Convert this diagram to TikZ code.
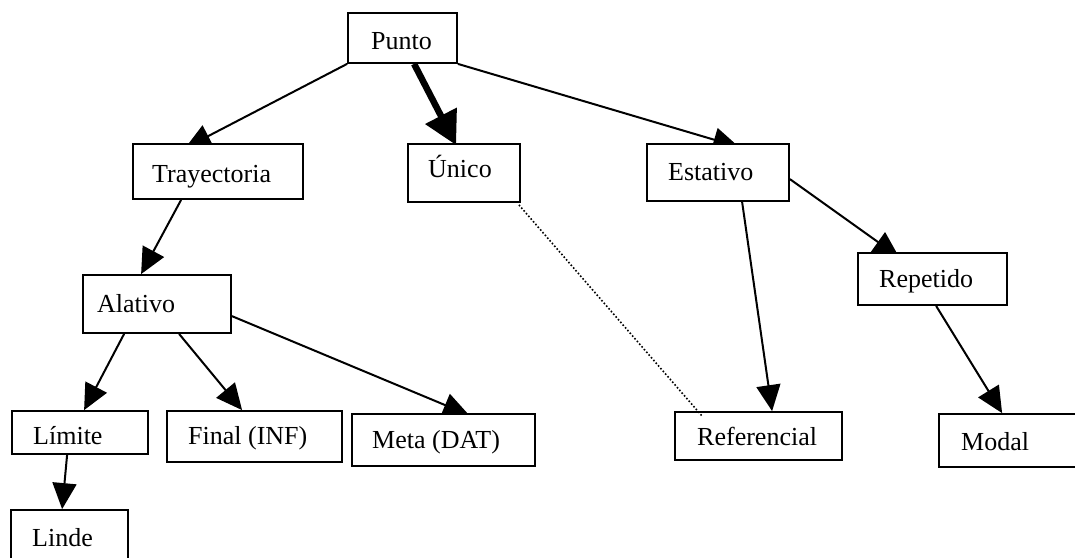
\documentclass[tikz,border=0pt]{standalone}
\usepackage{fontspec}
\setmainfont{Liberation Serif}
\usetikzlibrary{arrows.meta,calc,backgrounds}
\tikzset{
  box/.style={draw=black, line width=1.8pt, fill=white, inner sep=0pt, rectangle},
  lbl/.style={anchor=base west, inner sep=0pt, font=\fontsize{26}{30}\selectfont},
  arr/.style={line width=2pt, -{Triangle[length=26pt,width=24pt]}},
  thickarr/.style={line width=6.5pt, -{Triangle[length=33pt,width=34pt]}},
  dotline/.style={line width=1.6pt, dotted}
}
\begin{document}
\begin{tikzpicture}[x=1pt,y=-1pt]
\useasboundingbox (0,0) rectangle (1075,557);
% boxes
\node[box, minimum width=109pt, minimum height=50pt] (punto) at (402.5,38) {};
\node[box, minimum width=170pt, minimum height=55pt] (tray) at (218,171.5) {};
\node[box, minimum width=112pt, minimum height=58pt] (unico) at (464,173) {};
\node[box, minimum width=142pt, minimum height=57pt] (estativo) at (718,172.5) {};
\node[box, minimum width=149pt, minimum height=52pt] (repetido) at (932.5,279) {};
\node[box, minimum width=148pt, minimum height=58pt] (alativo) at (157,304) {};
\node[box, minimum width=136pt, minimum height=43pt] (limite) at (80,432.5) {};
\node[box, minimum width=175pt, minimum height=51pt] (final) at (254.5,436.5) {};
\node[box, minimum width=183pt, minimum height=52pt] (meta) at (443.5,440) {};
\node[box, minimum width=167pt, minimum height=48pt] (referencial) at (758.5,436) {};
\node[box, minimum width=150pt, minimum height=53pt] (modal) at (1014,440.5) {};
\node[box, minimum width=117pt, minimum height=60pt] (linde) at (69.5,540) {};
% labels
\node[lbl] (puntoT) at (371,49) {Punto};
\node[lbl] (trayT) at (152,182) {Trayectoria};
\node[lbl] (unicoT) at (428,177) {Único};
\node[lbl] (estativoT) at (668,180) {Estativo};
\node[lbl] (repetidoT) at (879,287) {Repetido};
\node[lbl] (alativoT) at (97,312) {Alativo};
\node[lbl] (limiteT) at (33,444) {Límite};
\node[lbl] (finalT) at (188,444) {Final (INF)};
\node[lbl] (metaT) at (372,448) {Meta (DAT)};
\node[lbl] (referencialT) at (697,445) {Referencial};
\node[lbl] (modalT) at (961,450) {Modal};
\node[lbl] (lindeT) at (32,546) {Linde};
% connectors
\begin{pgfonlayer}{background}
\draw[arr] (punto.south west) -- ($(tray.north west)+(53,5)$);
\draw[thickarr] ($(punto.south west)+(67,0)$) -- ($(unico.north west)+(49,2)$);
\draw[arr] (punto.south east) -- ($(estativo.north west)+(93,4)$);
\draw[arr] ($(tray.south west)+(49,0)$) -- ($(alativo.north west)+(59,0)$);
\draw[arr] ($(alativo.south west)+(42,0)$) -- ($(limite.north west)+(73,0)$);
\draw[arr] ($(alativo.south west)+(97,0)$) -- ($(final.north west)+(76,0)$);
\draw[arr] ($(alativo.north east)+(0,42)$) -- ($(meta.north west)+(118,2)$);
\draw[arr] ($(limite.south west)+(56,0)$) -- ($(linde.north west)+(52,0)$);
\draw[arr] ($(estativo.north east)+(0,36)$) -- ($(repetido.north west)+(42,5)$);
\draw[arr] ($(estativo.south west)+(96,0)$) -- ($(referencial.north west)+(98,0)$);
\draw[arr] ($(repetido.south west)+(79,0)$) -- ($(modal.north west)+(64,0)$);
\end{pgfonlayer}
\draw[dotline] ($(unico.south east)+(-2,2)$) -- ($(referencial.north west)+(28,5)$);
\end{tikzpicture}
\end{document}
